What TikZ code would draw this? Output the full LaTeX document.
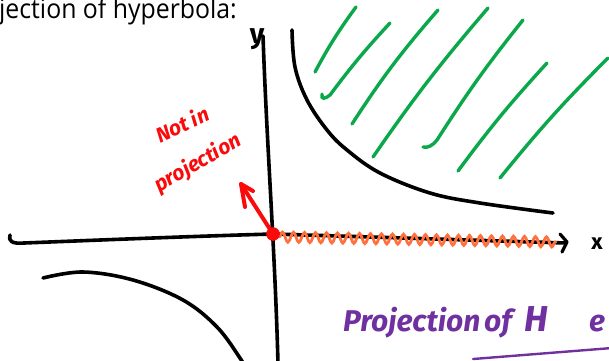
\documentclass[tikz,border=0pt]{standalone}
\usepackage{fontspec}
\setmainfont{Open Sans}
\newfontfamily\handfont{Fira Sans}
\usetikzlibrary{decorations.pathmorphing}
\definecolor{hatchgreen}{RGB}{10,168,75}
\definecolor{waveorange}{RGB}{255,112,60}
\definecolor{purp}{RGB}{112,48,160}
\definecolor{inkred}{RGB}{250,10,10}
\tikzset{
  ink/.style={draw=black, line width=3.6pt, line cap=round, line join=round},
  hatchline/.style={draw=hatchgreen, line width=3.4pt, line cap=round},
  handred/.style={text=inkred, font=\handfont\itshape\bfseries\fontsize{21}{22}\selectfont, inner sep=0pt},
  handpurp/.style={text=purp, font=\handfont\itshape\bfseries\fontsize{30}{32}\selectfont, inner sep=0pt, anchor=base west},
  axlabel/.style={text=black, font=\handfont\bfseries\fontsize{22}{24}\selectfont, inner sep=0pt}
}
\begin{document}
\begin{tikzpicture}[x=1pt,y=-1pt]
\useasboundingbox (0,0) rectangle (609,360);
\clip (0,0) rectangle (609,360);
% title
\node[anchor=base west, inner sep=0pt, xscale=0.92] (title) at (-1,18) {\fontsize{27}{30}\selectfont jection of hyperbola:};
% coordinates
\coordinate (O) at (273,234);
\coordinate (xl) at (10,235);
\coordinate (xr) at (566,243);
\coordinate (yt) at (263,36);
\coordinate (yb) at (278,364);
% x axis
\draw[ink] (xl) .. controls (8,241) and (12,244) .. (24,243) .. controls (100,240) and (200,236) .. (O) -- (xr);
\draw[ink, line width=3.2pt] (560,234) -- (567,242) -- (562,252);
\node[axlabel] (xlab) at (597,244) {x};
% y axis
\draw[ink] (yt) .. controls (267,150) and (275,250) .. (yb);
\node[axlabel, font=\handfont\bfseries\fontsize{28}{30}\selectfont] (ylab) at (257,39) {y};
% hyperbola branches
\draw[ink] plot[smooth, tension=0.6] coordinates {(292,30) (295,67) (307,100) (327,130) (347,150) (380,173) (430,193) (480,203) (553,213)};
\draw[ink] plot[smooth, tension=0.6] coordinates {(43,278) (83,272) (133,280) (183,300) (217,327) (240,358) (244,366)};
% hatching
\draw[hatchline] (315,72) to[bend left=4] (356,7);
\draw[hatchline] (322,94) .. controls (321,100) and (325,99) .. (330,95) to[bend left=3] (390,23);
\draw[hatchline] (352,124) to[bend left=4] (438,10);
\draw[hatchline] (373,157) to[bend left=3] (488,8);
\draw[hatchline] (423,147) .. controls (428,148) and (432,146) .. (437,140) to[bend left=3] (523,20);
\draw[hatchline] (458,171) to[bend left=3] (547,63);
\draw[hatchline] (500,178) to[bend left=3] (608,58);
% projection wave
\draw[draw=waveorange, line width=2.8pt, line cap=round, decorate, decoration={snake, amplitude=5pt, segment length=11pt}] (279,237) -- (556,242);
% red dot and arrow
\fill[inkred] (O) circle (6.8pt);
\coordinate (tip) at (241,184);
\draw[draw=inkred, line width=4pt, line cap=round, line join=round] (O) -- (tip);
\draw[draw=inkred, line width=4pt, line cap=round, line join=round] (245,207) -- (tip) -- (253,191);
\node[handred, rotate=25] (notin) at (182,124) {Not in};
\node[handred, rotate=30] (proj) at (198,163) {projection};
% purple text
\node[handpurp] (p1) at (343,331) {Projection};
\node[handpurp] (p2) at (484,331) {of};
\node[handpurp, font=\handfont\itshape\bfseries\fontsize{36}{38}\selectfont] (p3) at (524,331) {H};
\node[handpurp] (p4) at (589,331) {e};
\draw[draw=purp, line width=2.4pt, line cap=round] (473,359) -- (612,348);
\end{tikzpicture}
\end{document}
